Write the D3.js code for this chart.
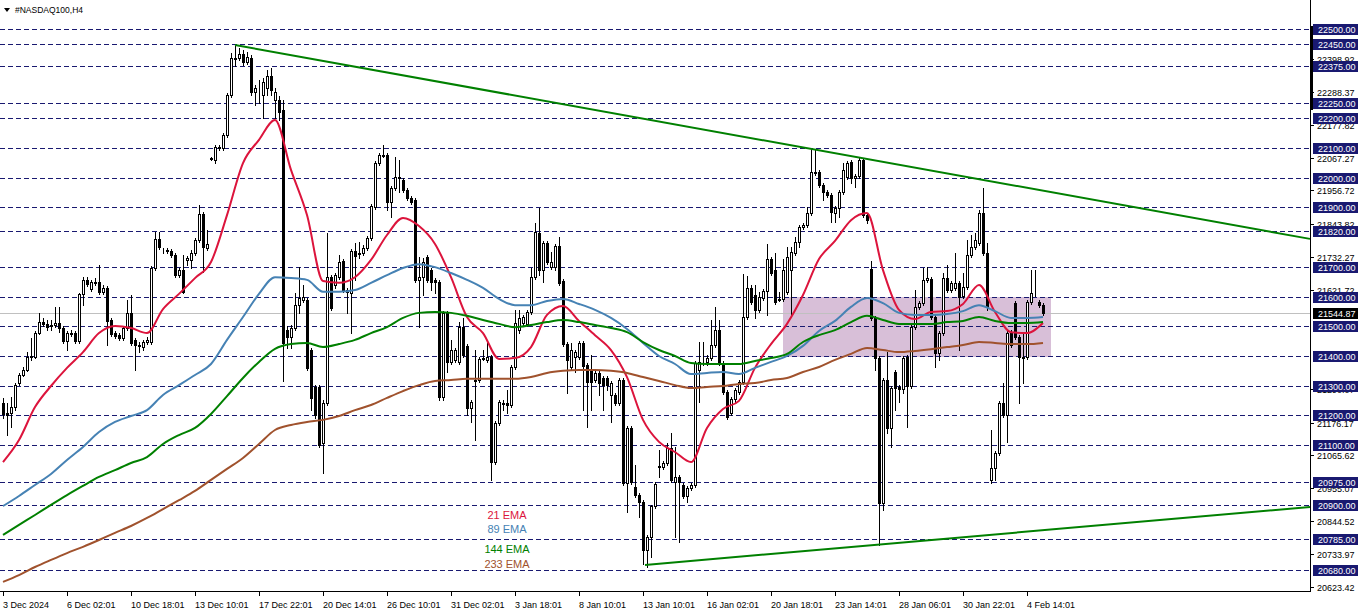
<!DOCTYPE html>
<html><head><meta charset="utf-8">
<script src="https://cdn.jsdelivr.net/npm/d3@7"></script>
<style>
body{margin:0;background:#fff;}
svg{display:block;font-family:"Liberation Sans",Arial,sans-serif;}
</style>
</head><body>
<svg id="chart" width="1362" height="611"></svg>
<script>
// ---------- DATA (H4 bars) ----------
const opens=[
21242,21208,21208,21228,21309,21336,21353,21396,21396,21477,
21514,21508,21501,21504,21511,21494,21450,21477,21477,21450,
21609,21656,21626,21649,21649,21616,21629,21521,21477,21470,
21460,21494,21545,21454,21437,21430,21447,21447,21696,21794,
21757,21757,21753,21740,21672,21689,21723,21723,21747,21790,
21878,21763,22066,22059,22100,22100,22143,22278,22399,22402,
22416,22389,22402,22288,22302,22278,22302,22342,22261,22261,
22228,21487,21464,21494,21571,21588,21588,21420,21296,21296,
21107,21242,21665,21639,21665,21720,21622,21612,21753,21743,
21747,21763,21797,21901,22049,22076,22076,21918,21965,22002,
21992,21958,21931,21925,21656,21665,21733,21689,21656,21649,
21262,21545,21380,21387,21380,21497,21434,21225,21319,21319,
21393,21387,21396,21043,21175,21242,21242,21235,21363,21487,
21511,21508,21548,21665,21814,21689,21780,21699,21699,21770,
21652,21440,21363,21396,21396,21444,21370,21353,21319,21343,
21326,21326,21269,21269,21242,21319,20973,21158,20959,20932,
20909,20747,20791,20895,21030,21026,21040,21090,20976,20993,
20966,20929,20956,20966,21353,21376,21380,21393,21437,21487,
21376,21279,21208,21255,21279,21313,21531,21629,21605,21555,
21595,21619,21726,21689,21592,21592,21616,21689,21747,21784,
21834,21841,21881,22019,22019,21975,21952,21942,21881,21898,
21952,22002,22052,21999,22005,22059,21874,21693,21528,21393,
20905,21319,21158,21346,21296,21289,21396,21299,21497,21564,
21578,21656,21659,21531,21410,21477,21662,21622,21629,21646,
21602,21632,21740,21767,21780,21881,21747,20983,21023,21074,
21242,21201,21477,21578,21464,21396,21396,21582,21616,21582,
21571];
const highs=[
21259,21242,21262,21309,21343,21363,21413,21460,21484,21545,
21528,21521,21521,21564,21564,21501,21484,21487,21484,21612,
21665,21665,21656,21662,21706,21639,21636,21528,21484,21477,
21501,21588,21605,21460,21447,21454,21464,21703,21817,21817,
21764,21764,21760,21747,21696,21740,21737,21757,21797,21908,
21884,21824,22069,22110,22110,22150,22285,22419,22446,22436,
22429,22423,22413,22312,22328,22335,22362,22369,22302,22275,
22261,21501,21504,21612,21699,21639,21595,21427,21302,21302,
21252,21814,21672,21679,21740,21726,21629,21760,21780,21784,
21773,21804,21911,22056,22083,22110,22083,21972,22069,22059,
21999,21965,21938,21931,21733,21730,21740,21696,21662,21656,
21551,21551,21454,21427,21514,21528,21440,21252,21420,21396,
21420,21444,21403,21181,21252,21252,21286,21370,21555,21555,
21538,21555,21696,21847,21898,21787,21787,21750,21777,21800,
21659,21447,21444,21420,21450,21450,21376,21403,21350,21350,
21333,21333,21316,21276,21326,21326,21165,21165,21033,20939,
20915,20798,20900,20976,21084,21046,21107,21141,21094,21000,
20973,20963,20973,21383,21447,21447,21403,21521,21564,21521,
21383,21286,21262,21292,21319,21676,21669,21639,21639,21616,
21626,21777,21733,21747,21616,21726,21767,21767,21800,21841,
21847,21901,22100,22096,22026,21982,21958,21948,21905,21958,
22049,22056,22059,22012,22069,22066,21881,21720,21534,21400,
21326,21413,21299,21353,21302,21400,21403,21504,21622,21585,
21696,21699,21665,21538,21484,21679,21706,21652,21747,21652,
21679,21790,21807,21814,21891,21965,21780,21151,21080,21249,
21309,21484,21487,21585,21470,21477,21588,21689,21689,21588,
21578];
const lows=[
21191,21134,21161,21218,21302,21333,21350,21387,21393,21474,
21501,21487,21487,21497,21480,21444,21420,21467,21444,21444,
21571,21636,21619,21639,21609,21609,21437,21467,21460,21454,
21454,21487,21437,21353,21413,21420,21440,21440,21689,21760,
21747,21747,21733,21665,21665,21612,21706,21696,21740,21784,
21683,21757,22059,22049,22093,22093,22137,22271,22375,22396,
22379,22382,22278,22244,22251,22201,22278,22278,22201,22194,
21316,21427,21427,21487,21545,21582,21353,21218,21191,21094,
21006,21235,21555,21629,21659,21616,21545,21477,21656,21730,
21740,21757,21790,21895,22042,22069,21891,21868,21958,21952,
21952,21925,21911,21649,21497,21605,21649,21622,21612,21252,
21252,21346,21373,21380,21373,21396,21201,21178,21117,21312,
21387,21380,20983,21036,21168,21218,21208,21228,21356,21477,
21504,21501,21541,21659,21672,21649,21710,21693,21689,21639,
21434,21276,21356,21346,21390,21218,21161,21218,21313,21269,
21218,21286,21178,21235,21235,20966,20875,20970,20926,20858,
20700,20690,20724,20888,20993,21020,21033,20976,20791,20774,
20922,20909,20949,20959,21245,21370,21370,21387,21430,21370,
21272,21188,21201,21242,21272,21306,21524,21575,21528,21548,
21588,21538,21672,21575,21585,21585,21609,21531,21740,21767,
21827,21834,21874,22009,21969,21925,21935,21851,21851,21868,
21945,21995,21982,21969,21999,21868,21847,21521,21353,20764,
20882,21141,21094,21218,21245,21276,21161,21292,21491,21558,
21571,21649,21524,21363,21387,21470,21616,21616,21622,21420,
21595,21626,21733,21760,21773,21740,21555,20973,20983,21067,
21195,21111,21430,21457,21242,21309,21390,21575,21602,21565,
21538];
const closes=[
21205,21201,21228,21302,21336,21353,21396,21400,21477,21514,
21508,21497,21504,21511,21494,21450,21477,21475,21450,21609,
21656,21642,21649,21646,21616,21629,21518,21474,21467,21460,
21494,21545,21444,21437,21435,21447,21454,21696,21794,21767,
21755,21753,21740,21672,21689,21616,21730,21747,21790,21878,
21767,21777,22064,22103,22103,22143,22278,22402,22402,22416,
22389,22406,22288,22302,22300,22322,22342,22295,22288,22221,
21444,21464,21494,21571,21595,21598,21360,21259,21201,21101,
21242,21665,21561,21672,21716,21622,21616,21753,21737,21747,
21763,21797,21905,22049,22076,22074,21918,21965,22002,21999,
21958,21931,21918,21656,21665,21716,21656,21649,21649,21262,
21545,21380,21420,21420,21497,21403,21225,21245,21316,21390,
21391,21396,21043,21175,21245,21240,21235,21363,21511,21528,
21531,21548,21665,21817,21689,21780,21716,21716,21770,21646,
21440,21387,21420,21413,21444,21366,21313,21313,21343,21309,
21302,21302,21309,21242,21319,20973,21158,20976,20932,20909,
20747,20791,20895,20970,21028,21040,21090,20983,20993,20976,
20929,20956,20966,21376,21380,21378,21393,21437,21487,21376,
21279,21195,21255,21286,21313,21531,21629,21582,21555,21598,
21619,21726,21679,21582,21590,21689,21733,21750,21784,21834,
21841,21881,22019,22016,21975,21952,21942,21884,21898,21952,
22026,22049,21999,22005,22059,21874,21857,21528,21393,20905,
21319,21158,21292,21292,21289,21393,21299,21497,21564,21578,
21656,21662,21531,21410,21477,21662,21622,21646,21646,21598,
21632,21740,21767,21790,21881,21747,21564,21023,21074,21242,
21201,21477,21437,21464,21396,21394,21582,21612,21614,21571,
21544.87];

// EMA values sampled every 4th bar (bars 0,4,8,...,260)
const emaStep=4;
const ema21=[21043,21117,21228,21299,21360,21413,21477,21501,21494,21477,21558,21609,21662,21716,21874,22049,22127,22194,22026,21874,21652,21646,21665,21723,21807,21864,21837,21777,21665,21531,21477,21390,21393,21430,21538,21568,21518,21470,21420,21329,21185,21111,21077,21043,21158,21222,21249,21360,21440,21508,21605,21726,21787,21857,21881,21689,21555,21524,21548,21551,21575,21639,21548,21480,21477,21511];
const ema89=[20895,20929,20966,21003,21050,21094,21144,21178,21198,21218,21269,21302,21336,21373,21454,21531,21609,21665,21662,21656,21616,21616,21622,21646,21672,21696,21709,21699,21679,21656,21629,21592,21571,21571,21585,21592,21575,21555,21528,21491,21444,21400,21373,21339,21343,21346,21339,21360,21380,21400,21434,21484,21518,21565,21595,21578,21545,21538,21538,21541,21551,21571,21551,21528,21528,21531];
const ema144=[20798,20832,20865,20899,20932,20963,20993,21016,21040,21060,21104,21134,21158,21205,21265,21326,21380,21424,21440,21444,21430,21440,21454,21477,21497,21528,21545,21548,21545,21535,21521,21508,21497,21504,21514,21521,21514,21504,21494,21480,21447,21420,21400,21376,21373,21373,21373,21383,21393,21407,21447,21470,21487,21514,21535,21521,21508,21508,21508,21514,21518,21531,21518,21511,21511,21514];
const ema233=[20640,20663,20690,20714,20737,20758,20781,20805,20828,20855,20885,20915,20946,20983,21020,21057,21104,21151,21168,21178,21185,21198,21218,21235,21259,21282,21302,21316,21319,21323,21323,21323,21323,21329,21343,21350,21353,21353,21350,21343,21329,21316,21302,21292,21296,21299,21306,21309,21319,21326,21346,21363,21387,21407,21427,21420,21413,21417,21423,21430,21437,21447,21444,21440,21440,21444];
const emaNames=["21 EMA","89 EMA","144 EMA","233 EMA"];
const emaColors=["#dc143c","#4682b4","#008000","#a0522d"];

// price axis
const levelPrices=[22500,22450,22375,22250,22200,22100,22000,21900,21820,21700,21600,21500,21400,21300,21200,21100,20975,20900,20785,20680];
const scaleTicks=[22398.92,22288.37,22177.82,22067.27,21956.72,21843.82,21732.27,21621.72,21290.07,21176.17,21065.62,20955.07,20844.52,20733.97,20623.42];
const lastPrice=21544.87;

// time axis (a label every 16 bars)
const timeLabels=["3 Dec 2024","6 Dec 02:01","10 Dec 18:01","13 Dec 10:01","17 Dec 22:01","20 Dec 14:01","26 Dec 10:01","31 Dec 02:01","3 Jan 18:01","8 Jan 10:01","13 Jan 10:01","16 Jan 02:01","20 Jan 18:01","23 Jan 14:01","28 Jan 06:01","30 Jan 22:01","4 Feb 14:01"];
const timeLabelEvery=16;

// drawn objects
const upperTrend=[{bar:58,price:22446},{bar:326.75,price:21794}];
const lowerTrend=[{bar:160.5,price:20697},{bar:326.75,price:20892}];
const zone={startBar:195,endBar:262,top:21600,bottom:21397};

// ---------- LAYOUT ----------
const W=1362,H=611;
const plotRight=1310, plotBottom=591;
const svg=d3.select("#chart");
const x=d3.scaleLinear().domain([0,260]).range([3,1043]);
const y=d3.scaleLinear().domain([20680,22500]).range([570,29]);
const px=v=>Math.round(x(v));
const py=v=>Math.round(y(v));

svg.append("rect").attr("width",W).attr("height",H).attr("fill","#fff");

// zone rectangle
svg.append("rect")
  .attr("x",px(zone.startBar)).attr("y",py(zone.top))
  .attr("width",px(zone.endBar)-px(zone.startBar))
  .attr("height",py(zone.bottom)-py(zone.top))
  .attr("fill","#d8bfd8");

// dashed level lines
svg.append("g").selectAll("line").data(levelPrices).join("line")
  .attr("x1",0).attr("x2",plotRight)
  .attr("y1",d=>py(d)+0.5).attr("y2",d=>py(d)+0.5)
  .attr("stroke","#191970").attr("stroke-width",1)
  .attr("stroke-dasharray","5,3").attr("shape-rendering","crispEdges");

// last price line
svg.append("line").attr("x1",0).attr("x2",plotRight)
  .attr("y1",py(lastPrice)+0.5).attr("y2",py(lastPrice)+0.5)
  .attr("stroke","#c0c0c0").attr("shape-rendering","crispEdges");

// candles
const bars=d3.range(opens.length).map(i=>({i,o:opens[i],h:highs[i],l:lows[i],c:closes[i]}));
const cg=svg.append("g").attr("shape-rendering","crispEdges");
cg.selectAll("line").data(bars).join("line")
  .attr("x1",d=>px(d.i)+0.5).attr("x2",d=>px(d.i)+0.5)
  .attr("y1",d=>py(d.h)).attr("y2",d=>py(d.l)+1)
  .attr("stroke","#000");
cg.selectAll("rect").data(bars).join("rect")
  .attr("x",d=>px(d.i)-0.5)
  .attr("y",d=>Math.min(py(d.o),py(d.c))+0.5)
  .attr("width",2)
  .attr("height",d=>Math.max(0,Math.abs(py(d.o)-py(d.c))))
  .attr("fill",d=>d.c>=d.o?"#fff":"#000")
  .attr("stroke","#000");

// EMAs
const line=d3.line().x(d=>x(d[0])).y(d=>y(d[1])).curve(d3.curveMonotoneX);
[ema21,ema89,ema144,ema233].forEach((arr,k)=>{
  const pts=arr.map((v,j)=>[j*emaStep,v]);
  svg.append("path").attr("d",line(pts)).attr("fill","none")
    .attr("stroke",emaColors[k]).attr("stroke-width",2);
});

// trend lines
[upperTrend,lowerTrend].forEach(t=>{
  svg.append("line")
    .attr("x1",x(t[0].bar)).attr("y1",y(t[0].price))
    .attr("x2",x(t[1].bar)).attr("y2",y(t[1].price))
    .attr("stroke","#008000").attr("stroke-width",2);
});

// EMA labels
const labelY=[519,533,553,568];
emaNames.forEach((n,k)=>{
  svg.append("text").attr("x",x(126)).attr("y",labelY[k])
    .attr("text-anchor","middle").attr("font-size",11)
    .attr("fill",emaColors[k]).text(n);
});

// ---------- AXES ----------
const ax=svg.append("g").attr("shape-rendering","crispEdges");
ax.append("line").attr("x1",plotRight+0.5).attr("x2",plotRight+0.5)
  .attr("y1",0).attr("y2",plotBottom).attr("stroke","#000");
ax.append("line").attr("x1",0).attr("x2",plotRight+1)
  .attr("y1",plotBottom+0.5).attr("y2",plotBottom+0.5).attr("stroke","#000");
ax.append("rect").attr("x",plotRight).attr("y",26).attr("width",3).attr("height",84).attr("fill","#000");

// scale tick labels
scaleTicks.forEach(v=>{
  ax.append("line").attr("x1",plotRight).attr("x2",plotRight+4)
    .attr("y1",py(v)+0.5).attr("y2",py(v)+0.5).attr("stroke","#000");
  svg.append("text").attr("x",1317).attr("y",py(v)+3.5)
    .attr("font-size",9).attr("fill","#000").text(v.toFixed(2));
});
// level boxes
levelPrices.forEach(v=>{
  const yy=py(v);
  svg.append("rect").attr("x",1313).attr("y",yy-5).attr("width",45).attr("height",11)
    .attr("fill","#191970");
  svg.append("text").attr("x",1318).attr("y",yy+3.5)
    .attr("font-size",9).attr("fill","#fff").text(v.toFixed(2));
});
// last price box
{
  const yy=py(lastPrice);
  svg.append("rect").attr("x",1313).attr("y",yy-5).attr("width",45).attr("height",11).attr("fill","#000");
  svg.append("text").attr("x",1318).attr("y",yy+3.5)
    .attr("font-size",9).attr("fill","#fff").text(lastPrice.toFixed(2));
}

// time labels
timeLabels.forEach((t,k)=>{
  const xx=px(k*timeLabelEvery);
  ax.append("line").attr("x1",xx+0.5).attr("x2",xx+0.5)
    .attr("y1",plotBottom).attr("y2",plotBottom+5).attr("stroke","#000");
  svg.append("text").attr("x",xx).attr("y",608)
    .attr("font-size",9).attr("fill","#000").text(t);
});

// title
svg.append("path").attr("d","M4,8 L10,8 L7,12 Z").attr("fill","#000");
svg.append("text").attr("x",15).attr("y",13).attr("font-size",8.5).attr("fill","#000").text("#NASDAQ100,H4");
</script>
</body></html>
